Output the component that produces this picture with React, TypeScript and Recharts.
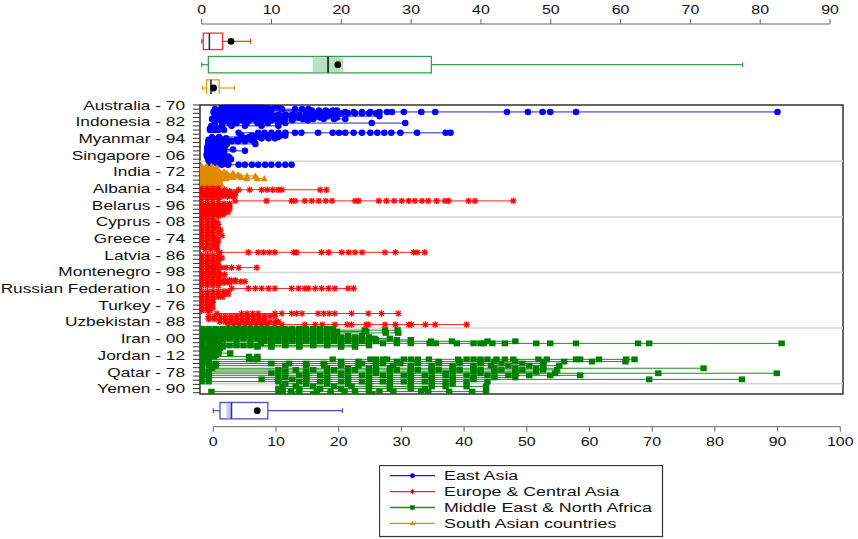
import React from 'react';
import {
  ScatterChart, Scatter, XAxis, YAxis, ErrorBar, ReferenceLine, ReferenceArea,
  Legend, ComposedChart, Bar,
} from 'recharts';

// ---------- tick labels ----------
const yLabels = [
  'Australia - 70', 'Indonesia - 82', 'Myanmar - 94', 'Singapore - 06', 'India - 72',
  'Albania - 84', 'Belarus - 96', 'Cyprus - 08', 'Greece - 74', 'Latvia - 86',
  'Montenegro - 98', 'Russian Federation - 10', 'Turkey - 76', 'Uzbekistan - 88',
  'Iran - 00', 'Jordan - 12', 'Qatar - 78', 'Yemen - 90',
];
const LABEL_STEP = 12;
const MINOR_STEP = 3;
const ROW_MAX = 208;
const gridRows = [40.5, 80.5, 120.5, 160.5, 200.5];
const topTicks = [0, 10, 20, 30, 40, 50, 60, 70, 80, 90];
const bottomTicks = [0, 10, 20, 30, 40, 50, 60, 70, 80, 90, 100];

// ---------- main panel data: [row, values] ----------
type Row = [number, number[]];

const eastAsia: Row[] = [
  [0, [3, 4, 5, 6, 7, 8, 9]],
  [1, [2.9, 3.8, 4.7, 5.6, 6.5, 7.4, 8.2, 9, 10.5, 11]],
  [2, [3.2, 4.2, 5.2, 6.2, 7.2, 8.3, 9.5]],
  [3, [1.9, 2.9, 3.6, 4.3, 5.5, 7, 8.6, 10, 11.5, 13.4, 14.4, 15.3]],
  [4, [2.5, 3.5, 4.5, 6, 8, 15.8, 16.8, 17.8, 18.8, 19.4]],
  [5, [1.7, 3.3, 4.5, 5.7, 7, 8, 15.8, 17, 18.2, 19.4, 20.6, 21.8, 23, 24.2, 25.5, 26.6, 27.3, 29, 31.5, 33.5, 43.8, 46.8, 48.9, 50, 53.7, 82.6]],
  [6, [2.2, 3.2, 4.2, 5.2, 6.2, 7.2, 8.2, 9.2, 15, 16, 17, 18, 19, 20, 21, 22, 23, 24, 25]],
  [7, [1.9, 2.8, 3.7, 4.6, 5.5, 6.4, 7.3, 8.2, 9.1, 10, 11, 12, 13, 14, 15, 16, 17, 18, 18.7]],
  [8, [2.4, 3.4, 4.4, 5.4, 6.4, 7.4, 8.4, 9.4, 10.4, 12, 13.5, 15, 16.5, 18, 19.4, 25.5]],
  [9, [2.2, 3, 4, 5, 6, 7, 8, 9, 10, 11, 12, 13, 14, 15.5, 17, 19.4]],
  [10, [1.5, 2.5, 3.5, 4.5, 5.5, 6.5, 7.5, 8.5, 9.5, 10.5, 11.5, 13, 14.5, 16, 17.5, 19, 20.6]],
  [11, [1.8, 2.8, 3.8, 4.8, 5.8, 6.8, 7.8, 8.8, 10, 11.5, 13, 15.2]],
  [13, [1.9, 3, 4, 5, 6.5, 8, 9.5, 11, 12, 24.4, 29.2]],
  [15, [1.4, 2.9, 4.3, 6.2, 8.6, 11]],
  [17, [1.2, 1.8, 2.4]],
  [18, [1.2, 1.8, 2.4, 3.2]],
  [20, [5.3, 8.1, 9, 10, 11, 12, 13.4, 14.3, 16.7, 18.8, 19.7, 20.6, 21.8, 23, 24.2, 25.2, 26.2, 27.2, 28.5, 30.9, 35, 35.7]],
  [22, [5.7, 7.2, 8.6, 9.6, 10.5, 11.3, 12]],
  [23, [1.5, 2.5, 6.8, 8, 9.5, 11]],
  [24, [1.5, 2.5, 3.5, 6.5, 7.5, 8.6, 9.6, 10.5]],
  [25, [1, 1.9, 2.8, 3.6, 5, 6, 7]],
  [26, [1, 1.9, 2.8, 3.6, 4.3, 5.2, 6.2, 7.5]],
  [27, [1, 1.9, 2.8, 3.6]],
  [28, [1, 1.9, 2.8, 3.6, 7.7]],
  [29, [0.9, 1.7, 2.6, 3.4]],
  [30, [0.9, 1.7, 2.5, 3.3]],
  [31, [0.8, 1.6, 2.4, 3.2]],
  [32, [0.8, 1.6, 2.4, 3.2, 4.5]],
  [33, [0.8, 1.6, 2.4, 6.2]],
  [34, [0.8, 1.6, 2.4, 3.2]],
  [35, [0.8, 1.6, 2.4]],
  [36, [0.7, 1.5, 2.3, 3.1]],
  [37, [0.8, 1.6, 2.4, 3.1, 3.8]],
  [38, [0.9, 1.7, 2.5, 3.3, 4]],
  [39, [1, 1.8, 2.6, 3.4, 4.2]],
  [40, [1, 1.8, 2.6, 3.4]],
  [41, [1.1, 2, 2.9, 3.6]],
  [42, [1.2, 2.2, 3.2, 3.8]],
  [43, [2.9, 3.8, 5.3, 6.2, 7.2, 8.1, 9.1, 10, 11, 12, 12.9]],
];

const southAsia: Row[] = [
  [44, [0, 0.7, 1.4]],
  [45, [0, 0.8, 1.6, 2.2]],
  [46, [0, 0.7, 1.4, 2]],
  [47, [0, 0.8, 1.6, 2.4]],
  [48, [0, 0.8, 1.6, 2.4, 3.2]],
  [49, [0, 0.9, 1.8, 2.7, 3.6, 4.5]],
  [50, [0, 0.9, 1.8, 2.7, 3.6, 4.5, 5.2]],
  [51, [0, 0.9, 1.8, 2.7, 3.6, 4.4, 5.5, 6.5, 7.7]],
  [52, [0, 0.9, 1.8, 2.7, 3.6, 4.5, 5.7]],
  [53, [0, 0.9, 1.8, 2.7, 3.5, 6.5, 8, 9]],
  [54, [0, 0.9, 1.8, 2.6]],
  [55, [0, 0.8, 1.6, 2.4]],
  [56, [0, 0.7, 1.4, 2.1]],
  [57, [0, 0.7, 1.4, 2.1, 2.8]],
  [58, [0, 0.7, 1.4, 2.1]],
  [59, [0.3, 1, 1.7]],
];

const europe: Row[] = [
  [60, [0, 0.8, 1.6, 2.4]],
  [61, [3.3, 5.3, 6.9, 8.6, 9.4, 10.2, 11, 11.5, 17, 17.9]],
  [62, [0, 0.8, 1.6, 2.4, 3.2, 4]],
  [63, [0, 0.8, 1.6, 2.4, 3.2, 4, 4.8]],
  [64, [0, 0.8, 1.6, 2.4, 3.2, 4.2]],
  [65, [0, 0.8, 1.6, 2.4, 3.2, 4, 4.8]],
  [66, [0.5, 1.3, 2.1, 2.9, 3.7, 4.5]],
  [68, [0, 0.8, 1.6, 2.4]],
  [69, [4.8, 9.3, 12.9, 13.4, 14.8, 15.8, 16.8, 17.8, 18.7, 22, 22.5, 25.4, 26.5, 27.6, 28.7, 29.7, 30.6, 31.6, 32.5, 33.7, 34.9, 35.4, 38.3, 39.2, 44.7]],
  [71, [0, 0.8, 1.6, 2.4, 3.2, 4]],
  [72, [0, 0.8, 1.6, 2.4, 3.2, 3.8]],
  [73, [0, 0.8, 1.6, 2.4, 3.2, 4]],
  [74, [0, 0.8, 1.6, 2.4, 3.2, 3.8]],
  [75, [0, 0.8, 1.6, 2.4, 3.2, 4]],
  [76, [0, 0.8, 1.6, 2.4, 3.2]],
  [77, [0, 0.8, 1.6, 2.4, 3.2, 3.8]],
  [78, [0, 0.8, 1.6, 2.4, 3.2]],
  [79, [0, 0.8, 1.6, 2.4, 3]],
  [80, [0, 0.8, 1.6, 2.4]],
  [82, [0, 0.8, 1.6]],
  [84, [0, 0.8, 1.6, 2.2]],
  [86, [0, 0.8, 1.6, 2.4]],
  [88, [0, 0.8, 1.6, 2.2]],
  [90, [0, 0.8, 1.6, 2.7]],
  [92, [0, 0.8, 1.6, 2.4]],
  [94, [0, 0.8, 1.6, 2.9]],
  [96, [0, 0.8, 1.6, 2.2]],
  [98, [0, 0.8, 1.6, 2.4]],
  [100, [0, 0.8, 1.6, 2.2]],
  [102, [0, 0.8, 1.6, 2.2]],
  [104, [0.5, 1.3, 2.1]],
  [106, [2.6, 6.7, 8.1, 8.9, 9.7, 10.5, 13.2, 13.6, 17.2, 18.2, 20.1, 21.1, 22, 23, 26.3, 27.8, 30.4, 30.9, 32]],
  [108, [0, 0.8, 1.6, 2.4]],
  [110, [0, 0.8, 1.6, 2.4, 2.9]],
  [112, [0, 0.8, 1.6, 2.4]],
  [114, [0, 0.8, 1.6, 2.2]],
  [116, [0, 0.8, 1.6, 2.4]],
  [117, [1.4, 2, 2.8, 3.5, 4.3, 5.3, 7.9]],
  [118, [0, 0.8, 1.6]],
  [120, [0, 0.8, 1.6, 2.4]],
  [122, [0.3, 1.1, 1.9, 2.7, 3.3]],
  [124, [0, 0.8, 1.6, 2.4]],
  [126, [0, 0.8, 1.6, 2.4, 3.2, 4, 4.8]],
  [127, [2.4, 3.2, 4, 4.8, 5.6, 6.2]],
  [128, [0, 0.8, 1.6, 2.4, 3.2, 4]],
  [130, [0, 0.8, 1.6, 2.4]],
  [132, [4.3, 6.7, 7.7, 8.6, 9.6, 10.5, 12.9, 13.9, 14.8, 15.3, 16.3, 17.2, 18.2, 19.1, 21, 21.8]],
  [134, [0, 0.8, 1.6, 2.4, 3.2, 3.8]],
  [136, [0, 0.8, 1.6, 2.4, 3.2, 3.8]],
  [138, [0, 0.8, 1.6, 2.4, 3]],
  [140, [0, 0.8, 1.6]],
  [142, [0, 0.8, 1.6]],
  [144, [0, 0.8, 1.4]],
  [146, [0, 0.8, 1.6]],
  [148, [0, 0.8, 1.2]],
  [150, [2.2, 5.7, 6.5, 7.3, 8.1, 10.5, 11.5, 12.9, 13.6, 14.4, 16.7, 17.5, 18.3, 19.1, 21.5, 23.9, 25.8, 28.2]],
  [152, [1, 1.8, 2.6, 3.4, 4.2, 5, 5.8, 6.6, 7.4, 8.2, 9, 9.8, 10.5]],
  [154, [1, 1.8, 2.6, 3.4, 4.2, 5, 5.8, 6.6, 7.4, 8.2, 9]],
  [156, [2.6, 3.4, 4.2, 5, 5.8, 6.6, 7.4, 8.2, 9, 9.8, 10.6, 11]],
  [158, [3.8, 4.6, 5.4, 6.2, 7, 7.8, 8.6, 9.4, 10.5, 11.5, 14.8, 16.3, 17.3, 19.1, 20.9, 21.5, 23.6, 23.9, 26.3, 27.8, 29.7, 30.1, 32.1, 33.5, 38]],
];

const middleEast: Row[] = [
  [161, [0, 1, 2, 3, 4, 5, 6, 7, 8, 9, 10, 11, 12, 13, 14, 15, 16, 17, 18, 18.8]],
  [162, [0, 1, 2, 3, 4, 5, 6, 7, 8, 9, 10, 11.5, 12.4, 14, 16, 18.2, 18.7, 23.4, 26.3, 28.1]],
  [163, [0, 1, 2, 3, 4, 5, 6, 7, 8, 9, 10, 11, 12, 13, 14, 15, 16, 17, 18, 19.4, 23.6]],
  [164, [0, 1, 2, 3, 4, 5, 6, 7, 8, 9, 10, 11, 12, 13, 14, 15, 16, 26.4, 28.2]],
  [165, [0, 1, 2, 3, 4, 5, 6, 8, 10, 12, 14, 16, 18, 19.4]],
  [166, [0, 1, 2, 3, 5, 7, 9, 11, 13, 15, 17, 19, 21, 23]],
  [167, [0, 1, 2, 3, 4, 6, 8, 10, 12, 14, 16, 18, 20, 22, 24]],
  [168, [0, 1, 2, 4, 6, 8, 10, 12, 14, 16, 18, 20, 22, 24.8, 27]],
  [169, [0, 1, 2, 3, 5, 7, 9, 11, 13, 15, 17, 19, 21, 23, 25, 28, 30]],
  [170, [0, 1, 2, 9, 10, 11, 12, 13, 14, 15, 16, 17, 18, 19, 20, 21, 22, 23, 24, 25, 32.9, 35.9, 41, 45]],
  [171.5, [0, 1.2, 2.4, 8.5, 10, 12, 14, 16, 18, 20, 22, 24, 26, 28, 30, 32.7, 33.6, 36.6, 39, 40, 40.5, 41.7, 43.5, 48, 50, 53.7, 62.6, 64.2, 83.2]],
  [173, [0, 1, 2, 3, 4, 5, 6, 7, 8, 10, 12, 14, 16, 18, 20, 22, 24]],
  [174, [0, 1, 2, 3, 8, 10, 14, 20, 22]],
  [175, [0, 1, 2.6]],
  [176, [0, 1, 2]],
  [177, [0, 0.8, 1.6, 2.4]],
  [178.5, [0, 0.8, 1.6, 2.4, 4.1]],
  [180, [0, 1, 2]],
  [181, [0, 0.9, 1.8, 6.8, 8]],
  [183, [0.5, 6.8, 7.5, 8, 18.8, 24.2, 25, 26, 26.6, 29, 30, 31, 32.6, 36.8, 38, 39, 40, 41, 42.3, 43.5, 44.7, 48.3, 49.5, 53.7, 54.3, 57, 60.9, 62.1]],
  [184.6, [0, 1, 20, 22.5, 25, 28, 31, 34, 37, 40, 42, 45, 49, 52, 56, 60.8]],
  [186, [0, 1, 2, 10, 12.5, 15, 17.5, 20, 23, 26, 28.5, 31, 34, 37, 40, 43, 46, 49]],
  [187.5, [0, 1, 2, 12, 15, 17.6, 20, 22.5, 25, 27.5, 30, 33, 36, 39, 41.5, 44, 47, 49, 51.3]],
  [189.4, [0, 1.5, 18, 21, 24, 27, 30, 33, 36, 39, 42, 45, 48, 72]],
  [190.6, [0, 11, 13.5, 16, 19, 22, 25, 28, 31, 34, 37, 40, 43, 46, 49, 51]],
  [192, [0, 1, 12, 15, 18, 21, 24, 27, 30, 33, 36, 39, 42, 45, 48]],
  [193, [0, 1, 10, 15, 20, 25, 30, 35, 40, 45, 50.7, 65.5, 82.5]],
  [194.5, [0, 1, 11, 14, 17, 20, 23, 26, 29, 32, 35, 38, 41, 44, 47, 50, 54.3]],
  [196, [0, 1, 12, 15, 18, 21, 24, 27, 30, 33, 36, 39, 42, 45]],
  [197.4, [8.6, 11, 13, 15, 18, 21, 24, 27, 30, 33, 36, 39, 64.2, 77.5]],
  [199, [0, 1, 11, 14, 17, 20, 23, 26, 29, 32, 35, 38, 41]],
  [200.5, [12, 15, 18, 21, 24, 27, 30, 33, 36]],
  [202.5, [11.6, 13.5, 16, 19, 21.5, 24, 27, 30, 33, 35, 38, 40.8]],
  [204, [11, 14, 17, 20, 24, 27, 30, 32]],
  [206.2, [1.4, 11.6, 12.8, 14, 16.5, 18.5, 20.5, 22, 24, 25.5, 27.5, 31.5, 32.5, 35.5, 38.8, 40.8]],
  [208, [11, 13, 16, 18.5, 22, 24.5]],
];

// ---------- box plot summaries ----------
const europeBox = { cat: 'Europe & Central Asia', range: [0, 7.0], q1: 0.23, med: 1.1, q3: 3.0, mean: 4.2 };
const menaBox = { cat: 'Middle East & North Africa', range: [0, 77.5], q1: 0.95, med: 18.1, q3: 32.9, mean: 19.5, ciLo: 15.9, ciHi: 20.3 };
const southBox = { cat: 'South Asian countries', range: [0.14, 4.7], q1: 0.7, med: 1.33, q3: 2.5, mean: 1.7 };
const eastBox = { cat: 'East Asia', range: [0, 20.6], q1: 1.07, med: 2.9, q3: 8.7, mean: 7.0, ciLo: 2.1, ciHi: 2.9 };

const FONT = "'Liberation Sans', Arial, sans-serif";

const regions = [
  { name: 'East Asia', rows: eastAsia, color: '#0000ff', line: '#1f1fe0', marker: 'circle' },
  { name: 'South Asian countries', rows: southAsia, color: '#e08a00', line: '#e08a00', marker: 'triangle' },
  { name: 'Europe & Central Asia', rows: europe, color: '#ff0000', line: '#ff2020', marker: 'star' },
  { name: 'Middle East & North Africa', rows: middleEast, color: '#008000', line: '#1e8c1e', marker: 'square' },
];
const legendOrder = ['East Asia', 'Europe & Central Asia', 'Middle East & North Africa', 'South Asian countries'];

const toPoints = (rows: Row[]) => rows.flatMap(([r, vals]) => vals.map((v) => ({ x: v, y: r })));
const toSegments = (rows: Row[]) =>
  rows.filter(([, v]) => v.length > 1).map(([r, vals]) => {
    const lo = Math.min(...vals);
    const hi = Math.max(...vals);
    return { x: (lo + hi) / 2, y: r, err: (hi - lo) / 2 };
  });

const Marker = ({ kind, cx, cy, color }: { kind: string; cx: number; cy: number; color: string }) => {
  if (kind === 'circle') return <circle cx={cx} cy={cy} r={3.3} fill={color} />;
  if (kind === 'square') return <rect x={cx - 3.2} y={cy - 2.9} width={6.4} height={5.8} fill={color} />;
  if (kind === 'triangle')
    return <polygon points={`${cx},${cy - 3.6} ${cx - 3.6},${cy + 2.6} ${cx + 3.6},${cy + 2.6}`} fill={color} />;
  const s = 3.2;
  return (
    <g stroke={color} strokeWidth={1.3}>
      <line x1={cx - s} y1={cy} x2={cx + s} y2={cy} />
      <line x1={cx} y1={cy - s} x2={cx} y2={cy + s} />
      <line x1={cx - s * 0.75} y1={cy - s * 0.75} x2={cx + s * 0.75} y2={cy + s * 0.75} />
      <line x1={cx - s * 0.75} y1={cy + s * 0.75} x2={cx + s * 0.75} y2={cy - s * 0.75} />
    </g>
  );
};

const SText = ({ x, y, anchor = 'middle', size = 12, sx = 1.33, children }: any) => (
  <text
    transform={`translate(${x},${y}) scale(${sx},1)`}
    textAnchor={anchor}
    dominantBaseline="central"
    fontSize={size}
    fontFamily={FONT}
    fill="#111"
  >
    {children}
  </text>
);

const YTick = (props: any) => {
  const { x, y, payload } = props;
  const v = payload.value;
  if (v % LABEL_STEP !== 0) return <g />;
  return (
    <SText x={x} y={y} anchor="end" size={13} sx={1.33}>
      {yLabels[v / LABEL_STEP]}
    </SText>
  );
};

const yTicks = Array.from({ length: Math.floor(ROW_MAX / MINOR_STEP) + 1 }, (_, i) => i * MINOR_STEP);

const TopTick = (props: any) => (
  <SText x={props.x} y={9.5} size={12} sx={1.33}>
    {props.payload.value}
  </SText>
);
const BottomTick = (props: any) => (
  <SText x={props.x} y={46.7} size={12} sx={1.33}>
    {props.payload.value}
  </SText>
);

const boxColors: Record<string, { stroke: string; shade: string; median: string }> = {
  'Europe & Central Asia': { stroke: '#ee3333', shade: '#f6c0c0', median: '#30305a' },
  'Middle East & North Africa': { stroke: '#36a04c', shade: '#b9e0c2', median: '#111' },
  'South Asian countries': { stroke: '#d9a020', shade: '#f3dca0', median: '#222' },
  'East Asia': { stroke: '#4b4bc8', shade: '#c9c9f0', median: '#333399' },
};

const BoxShape = (props: any) => {
  const { x, y, width, height, payload } = props;
  if (!payload || !payload.range) return <g />;
  const [lo, hi] = payload.range;
  const sx = (v: number) => x + ((v - lo) * width) / (hi - lo);
  const cy = y + height / 2;
  const h = 8.2;
  const c = boxColors[payload.cat];
  return (
    <g>
      <line x1={sx(lo)} y1={cy} x2={sx(payload.q1)} y2={cy} stroke={c.stroke} strokeWidth={1.2} />
      <line x1={sx(payload.q3)} y1={cy} x2={sx(hi)} y2={cy} stroke={c.stroke} strokeWidth={1.2} />
      <line x1={sx(lo)} y1={cy - 2.5} x2={sx(lo)} y2={cy + 2.5} stroke={c.stroke} strokeWidth={1.2} />
      <line x1={sx(hi)} y1={cy - 2.5} x2={sx(hi)} y2={cy + 2.5} stroke={c.stroke} strokeWidth={1.2} />
      <rect x={sx(payload.q1)} y={cy - h} width={sx(payload.q3) - sx(payload.q1)} height={2 * h} fill="#fff" stroke={c.stroke} strokeWidth={1.3} />
      {payload.ciLo !== undefined && (
        <rect x={sx(payload.ciLo)} y={cy - h + 0.7} width={sx(payload.ciHi) - sx(payload.ciLo)} height={2 * h - 1.4} fill={c.shade} />
      )}
      <line x1={sx(payload.med)} y1={cy - h} x2={sx(payload.med)} y2={cy + h} stroke={c.median} strokeWidth={1.6} />
      <circle cx={sx(payload.mean)} cy={cy} r={3.4} fill="#000" />
    </g>
  );
};

const topBoxData = [
  { cat: 'gap1' }, europeBox, { cat: 'gap2' }, menaBox, { cat: 'gap3' }, southBox,
];
const bottomBoxData = [eastBox];

const LegendBox = () => (
  <svg width={285} height={73} style={{ display: 'block' }}>
    <rect x={0.5} y={0.5} width={283} height={71} fill="#fff" stroke="#333" strokeWidth={1.2} />
    {legendOrder.map((name, i) => {
      const reg = regions.find((r) => r.name === name)!;
      const cy = 10.7 + i * 15.9;
      return (
        <g key={name}>
          <line x1={11} y1={cy} x2={56} y2={cy} stroke={reg.line} strokeWidth={1.3} />
          <g transform={`translate(33.5,${cy}) scale(0.75)`}>
            <Marker kind={reg.marker} cx={0} cy={0} color={reg.color} />
          </g>
          <SText x={65} y={cy} anchor="start" size={13.3} sx={1.34}>
            {name}
          </SText>
        </g>
      );
    })}
  </svg>
);

export default function App() {
  return (
    <div style={{ position: 'absolute', left: 0, top: 0, width: 858, height: 539, background: '#fff' }}>
      <div style={{ position: 'absolute', left: 0, top: 0 }}>
        <ScatterChart width={858} height={539} margin={{ top: 105, right: 15, bottom: 144.9, left: 0 }}>
          <XAxis type="number" dataKey="x" domain={[-0.24, 92]} hide allowDataOverflow />
          <YAxis
            type="number"
            dataKey="y"
            domain={[0, ROW_MAX]}
            reversed
            allowDataOverflow
            ticks={yTicks}
            interval={0}
            width={200}
            tick={YTick}
            tickSize={7}
            tickMargin={8}
            axisLine={false}
            tickLine={{ stroke: '#333', strokeWidth: 1 }}
          />
          {gridRows.map((r) => (
            <ReferenceLine key={r} y={r} stroke="#d4d4d4" strokeWidth={1.5} ifOverflow="visible" />
          ))}
          {regions.flatMap((reg) => [
            <Scatter
              key={reg.name + '-lines'}
              data={toSegments(reg.rows)}
              shape={() => <g />}
              legendType="none"
              isAnimationActive={false}
            >
              <ErrorBar dataKey="err" direction="x" width={0} stroke={reg.line} strokeWidth={1} isAnimationActive={false} />
            </Scatter>,
            <Scatter
              key={reg.name}
              name={reg.name}
              data={toPoints(reg.rows)}
              isAnimationActive={false}
              shape={(p: any) => <Marker kind={reg.marker} cx={p.cx} cy={p.cy} color={reg.color} />}
            />,
          ])}
          <ReferenceArea x1={-0.24} x2={92} y1={0} y2={ROW_MAX} fill="none" stroke="#333" strokeWidth={1.5} ifOverflow="visible" />
          <Legend
            layout="horizontal"
            verticalAlign="middle"
            align="center"
            wrapperStyle={{ position: 'absolute', left: 379, top: 465, width: 285, height: 73 }}
            content={() => <LegendBox />}
          />
        </ScatterChart>
      </div>

      <div style={{ position: 'absolute', left: 0, top: 0 }}>
        <ComposedChart layout="vertical" width={858} height={94} data={topBoxData} margin={{ top: 0, right: 28, bottom: 0, left: 201.7 }}>
          <XAxis type="number" orientation="top" domain={[0, 90]} ticks={topTicks} interval={0} height={24} tickSize={5} stroke="#666" tick={TopTick} />
          <YAxis type="category" dataKey="cat" hide />
          <Bar dataKey="range" shape={BoxShape} isAnimationActive={false} />
        </ComposedChart>
      </div>

      <div style={{ position: 'absolute', left: 0, top: 395 }}>
        <ComposedChart layout="vertical" width={858} height={57} data={bottomBoxData} margin={{ top: 0, right: 17.7, bottom: 0, left: 213.3 }}>
          <XAxis type="number" orientation="bottom" domain={[0, 100]} ticks={bottomTicks} interval={0} height={25.3} tickSize={5} stroke="#666" tick={BottomTick} />
          <YAxis type="category" dataKey="cat" hide />
          <Bar dataKey="range" shape={BoxShape} isAnimationActive={false} />
        </ComposedChart>
      </div>
    </div>
  );
}
